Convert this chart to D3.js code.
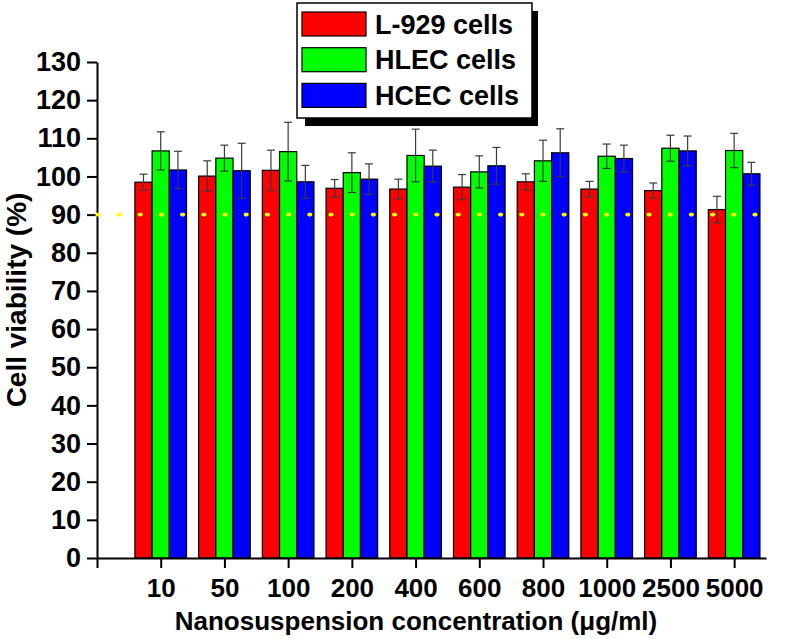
<!DOCTYPE html>
<html>
<head>
<meta charset="utf-8">
<script src="https://cdn.jsdelivr.net/npm/d3@7"></script>
<style>
  html, body { margin: 0; padding: 0; background: #fff; }
  svg { display: block; }
  text { font-family: "Liberation Sans", Arial, sans-serif; font-weight: bold; fill: #000; }
</style>
</head>
<body>
<svg id="chart" width="787" height="639"></svg>
<script>
// ---- data ----
const categories = ["10", "50", "100", "200", "400", "600", "800", "1000", "2500", "5000"];
const seriesNames = ["L-929 cells", "HLEC cells", "HCEC cells"];
const l929 =    [98.5, 100.1, 101.6, 96.9, 96.7, 97.2, 98.6, 96.7, 96.3, 91.3];
const l929Err = [2.1, 4.0, 5.3, 2.3, 2.6, 3.3, 2.1, 2.0, 2.0, 3.5];
const hlec =    [106.7, 104.8, 106.5, 101.0, 105.5, 101.2, 104.1, 105.3, 107.4, 106.8];
const hlecErr = [5.0, 3.4, 7.7, 5.2, 6.9, 4.2, 5.4, 3.2, 3.4, 4.5];
const hcec =    [101.7, 101.5, 98.6, 99.3, 102.7, 102.8, 106.2, 104.7, 106.7, 100.7];
const hcecErr = [4.9, 7.2, 4.3, 4.0, 4.2, 4.8, 6.3, 3.5, 3.9, 3.0];
const yTicks = [0, 10, 20, 30, 40, 50, 60, 70, 80, 90, 100, 110, 120, 130];
const refLine = 90;
const colors = ["#ff0000", "#00ff00", "#0000ff"];

const series = [
  { name: seriesNames[0], values: l929, errs: l929Err, color: colors[0] },
  { name: seriesNames[1], values: hlec, errs: hlecErr, color: colors[1] },
  { name: seriesNames[2], values: hcec, errs: hcecErr, color: colors[2] }
];

const svg = d3.select("#chart");

const x = d3.scaleLinear().domain([0, 10.5]).range([97, 766]);
const y = d3.scaleLinear().domain([0, 130]).range([558, 62]);
const unit = x(1) - x(0);
const bw = unit * 0.27;

// bars
series.forEach((s, si) => {
  const g = svg.append("g");
  g.selectAll("rect")
    .data(s.values)
    .enter().append("rect")
    .attr("x", (d, i) => x(i + 1) + (si - 1) * bw - bw / 2)
    .attr("y", d => y(d))
    .attr("width", bw)
    .attr("height", d => y(0) - y(d))
    .attr("fill", s.color)
    .attr("stroke", "#000")
    .attr("stroke-width", 1.2);
});

// error bars
series.forEach((s, si) => {
  const g = svg.append("g").attr("stroke", "#3a3a3a").attr("stroke-width", 1.2).attr("fill", "none");
  s.values.forEach((v, i) => {
    const cx = x(i + 1) + (si - 1) * bw;
    const top = y(v + s.errs[i]);
    const bot = y(v - s.errs[i]);
    g.append("line").attr("x1", cx).attr("x2", cx).attr("y1", top).attr("y2", bot);
    g.append("line").attr("x1", cx - 4).attr("x2", cx + 4).attr("y1", top).attr("y2", top);
    g.append("line").attr("x1", cx - 4).attr("x2", cx + 4).attr("y1", bot).attr("y2", bot);
  });
});

// axes
const xAxis = d3.axisBottom(x)
  .tickValues(d3.range(0, categories.length + 1))
  .tickFormat(d => d === 0 ? "" : categories[d - 1])
  .tickSize(10).tickSizeOuter(0).tickPadding(11);
const gx = svg.append("g").attr("transform", `translate(0,${y(0)})`).call(xAxis);
gx.selectAll("text").style("font-size", "26px").style("font-family", '"Liberation Sans", Arial, sans-serif').style("font-weight", "bold");

const yAxis = d3.axisLeft(y)
  .tickValues(yTicks)
  .tickSize(10).tickSizeOuter(0).tickPadding(6);
const gy = svg.append("g").attr("transform", `translate(${x(0)},0)`).call(yAxis);
gy.selectAll("text").style("font-size", "27px").style("font-family", '"Liberation Sans", Arial, sans-serif').style("font-weight", "bold");

[gx, gy].forEach(g => {
  g.select(".domain").attr("stroke", "#000").attr("stroke-width", 2);
  g.selectAll(".tick line").attr("stroke", "#000").attr("stroke-width", 2);
});

// reference dotted line at 90% (drawn on top)
svg.append("line")
  .attr("x1", x(0)).attr("x2", x(10.4))
  .attr("y1", y(refLine)).attr("y2", y(refLine))
  .attr("stroke", "#ffff00")
  .attr("stroke-width", 3.6)
  .attr("stroke-linecap", "round")
  .attr("stroke-dasharray", "1.6 19.6");

// axis titles
svg.append("text")
  .attr("x", 416).attr("y", 630)
  .attr("text-anchor", "middle")
  .style("font-size", "26px")
  .text("Nanosuspension concentration (μg/ml)");

svg.append("text")
  .attr("transform", "translate(26,300) rotate(-90)")
  .attr("text-anchor", "middle")
  .style("font-size", "28px")
  .text("Cell viability (%)");

// legend
const lg = svg.append("g");
lg.append("rect").attr("x", 305).attr("y", 11).attr("width", 233).attr("height", 115).attr("fill", "#000");
lg.append("rect").attr("x", 297).attr("y", 3).attr("width", 235).attr("height", 115)
  .attr("fill", "#fff").attr("stroke", "#000").attr("stroke-width", 1.5);
series.forEach((s, i) => {
  lg.append("rect")
    .attr("x", 302).attr("y", 12 + i * 35.7)
    .attr("width", 64).attr("height", 24)
    .attr("fill", s.color).attr("stroke", "#000").attr("stroke-width", 1.2);
  lg.append("text")
    .attr("x", 375).attr("y", 12 + i * 35.7 + 21.5)
    .style("font-size", "27px")
    .text(s.name);
});
</script>
</body>
</html>
